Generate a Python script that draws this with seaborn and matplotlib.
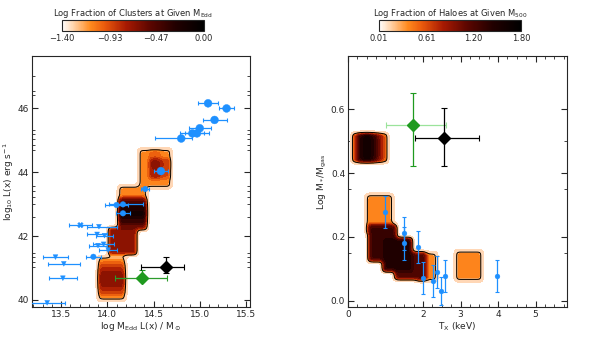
import numpy as np
import matplotlib
matplotlib.use("Agg")
import matplotlib.pyplot as plt
import seaborn as sns
import pandas as pd
from matplotlib.colors import LinearSegmentedColormap, Normalize
from matplotlib.cm import ScalarMappable
from matplotlib.ticker import FixedLocator, MultipleLocator

# ---------------- data: left panel ----------------
left_x = [15.09, 15.29, 15.16, 15.00, 14.92, 14.97, 14.80, 14.58, 14.41,
          14.10, 14.17, 14.17, 13.71, 13.91, 13.89, 13.97, 13.90, 13.96,
          14.01, 13.85, 13.44, 13.53, 13.52, 13.35]
left_y = [46.15, 45.99, 45.63, 45.37, 45.21, 45.21, 45.05, 44.03, 43.47,
          42.97, 42.99, 42.71, 42.34, 42.29, 42.05, 42.01, 41.70, 41.74,
          41.56, 41.35, 41.34, 41.13, 40.68, 39.91]
left_xerr_lo = [0.11, 0.08, 0.13, 0.12, 0.13, 0.13, 0.28, 0.08, 0.04, 0.12, 0.15, 0.08,
                0.12, 0.13, 0.11, 0.09, 0.10, 0.11, 0.10, 0.08, 0.14, 0.17, 0.15, 0.19]
left_xerr_hi = [0.11, 0.08, 0.13, 0.12, 0.13, 0.13, 0.12, 0.08, 0.04, 0.12, 0.22, 0.08,
                0.12, 0.19, 0.11, 0.09, 0.10, 0.11, 0.10, 0.08, 0.14, 0.17, 0.15, 0.19]
left_kind = ["big"] * 8 + ["mid", "mid", "mid", "mid", "cross", "tri", "tri", "tri",
                           "tri", "tri", "tri", "mid", "tri", "tri", "tri", "tri"]

left_green = dict(x=14.38, y=40.68, xlo=0.30, xhi=0.27, ylo=0.10, yhi=0.27)
left_black = dict(x=14.64, y=41.02, xlo=0.27, xhi=0.19, ylo=0.17, yhi=0.33)

# density blocks (log fraction), matrices rows bottom->top
left_blk_x0 = [13.90, 14.01, 14.12, 14.34]
left_blk_x1 = [14.20, 14.32, 14.43, 14.69]
left_blk_y0 = [39.98, 41.41, 42.19, 43.50]
left_blk_y1 = [41.36, 42.28, 43.58, 44.72]
left_blk_val = [
    [[-1.12], [-0.85], [-0.70], [-0.62], [-0.72], [-0.88], [-1.12]],
    [[-0.66]],
    [[-0.60], [-0.35], [-0.18], [-0.25], [-0.50], [-1.12], [-1.12]],
    [[-1.12, -1.12, -1.12], [-1.12, -0.75, -0.92], [-1.12, -0.68, -0.85], [-1.12, -1.0, -1.12]],
]
left_cb_ticks = [-1.40, -0.93, -0.47, 0.00]
left_cb_labels = ["\u22121.40", "\u22120.93", "\u22120.47", "0.00"]
left_xticks = [13.5, 14.0, 14.5, 15.0, 15.5]
left_yticks = [40, 42, 44, 46]
left_yminor = [41.03, 41.19, 41.34, 41.47, 42.59, 43.0, 43.22, 43.41, 43.56,
               44.69, 44.84, 45.03, 45.19, 45.31, 46.41, 46.53, 47.0]

# ---------------- data: right panel ----------------
right_x = [0.987, 1.49, 1.49, 1.875, 1.99, 2.27, 2.38, 2.48, 2.59, 3.98]
right_y = [0.279, 0.211, 0.180, 0.170, 0.071, 0.0625, 0.090, 0.031, 0.079, 0.079]
right_yerr = [0.05, 0.052, 0.052, 0.05, 0.05, 0.05, 0.05, 0.045, 0.05, 0.05]

right_green = dict(x=1.725, y=0.55, xlo=0.71, xhi=0.89, ylo=0.128, yhi=0.10)
right_black = dict(x=2.57, y=0.51, xlo=0.78, xhi=0.92, ylo=0.088, yhi=0.092)

right_blk_x0 = [0.115, 0.47, 0.54, 0.93, 1.25, 1.83, 2.86]
right_blk_x1 = [1.06, 1.21, 1.30, 1.71, 2.05, 2.37, 3.58]
right_blk_y0 = [0.433, 0.212, 0.123, 0.092, 0.066, 0.062, 0.062]
right_blk_y1 = [0.524, 0.334, 0.2375, 0.197, 0.154, 0.152, 0.158]
right_blk_val = [
    [[0.80, 1.45, 1.65, 1.40, 1.00, 0.60]],
    [[0.37]],
    [[1.30]],
    [[1.45]],
    [[1.20]],
    [[0.90, 0.37]],
    [[0.37]],
]
right_cb_ticks = [0.01, 0.61, 1.20, 1.80]
right_cb_labels = ["0.01", "0.61", "1.20", "1.80"]
right_xticks = [0, 2, 3, 4, 5]
right_yticks = [0.0, 0.2, 0.4, 0.6]
right_yminor = [0.15, 0.35, 0.5]

# ---------------- style ----------------
sns.set_theme(style="ticks")
plt.rcParams["font.family"] = ["DejaVu Sans"]
plt.rcParams["axes.linewidth"] = 0.8
FS = 6.5

cmap = LinearSegmentedColormap.from_list(
    "heat", [(0.0, "#ffffff"), (0.07, "#ffd9b5"), (0.2, "#ff8a1e"), (0.3, "#ea5a0c"),
             (0.45, "#a81a02"), (0.62, "#5c0600"), (0.8, "#220000"), (1.0, "#000000")])
HALO = "#ffd7b6"
BLUE = "#1e90ff"


def density(xlim, ylim, nx, ny, x0s, x1s, y0s, y1s, mats, base, sig):
    xs = np.linspace(xlim[0], xlim[1], nx)
    ys = np.linspace(ylim[0], ylim[1], ny)
    X, Y = np.meshgrid(xs, ys)
    Z = np.full(X.shape, base, dtype=float)
    for x0, x1, y0, y1, m in zip(x0s, x1s, y0s, y1s, mats):
        m = np.asarray(m, float)
        nr, nc = m.shape
        inside = (X >= x0) & (X <= x1) & (Y >= y0) & (Y <= y1)
        ci = np.clip(((X - x0) / (x1 - x0) * nc).astype(int), 0, nc - 1)
        ri = np.clip(((Y - y0) / (y1 - y0) * nr).astype(int), 0, nr - 1)
        Z = np.where(inside, np.maximum(Z, m[ri, ci]), Z)
    r = int(3 * sig) + 1
    t = np.arange(-r, r + 1)
    k = np.exp(-0.5 * (t / sig) ** 2)
    k /= k.sum()

    def conv(v):
        p = np.concatenate([np.full(r, base), v, np.full(r, base)])
        return np.convolve(p, k, mode="same")[r:-r]
    Z = np.apply_along_axis(conv, 1, Z)
    Z = np.apply_along_axis(conv, 0, Z)
    return xs, ys, Z


def draw_density(ax, xs, ys, Z, vmin, vmax):
    rng = vmax - vmin
    norm = Normalize(vmin, vmax)
    halo = vmin - 0.16 * rng
    line = vmin + 0.10 * rng
    ax.contourf(xs, ys, Z, levels=[halo, line], colors=[HALO], zorder=1)
    ax.contourf(xs, ys, Z, levels=np.linspace(line, vmax, 13), cmap=cmap, norm=norm, zorder=1)
    ax.contour(xs, ys, Z, levels=[line], colors="black", linewidths=0.7,
               linestyles="solid", zorder=2)
    return norm


fig = plt.figure(figsize=(6.0, 3.44), dpi=100)
axL = fig.add_axes([0.0533, 0.1076, 0.3633, 0.7296])
axR = fig.add_axes([0.58, 0.1076, 0.365, 0.7296])

# ---------- left panel ----------
L_xlim = (13.186, 15.543)
L_ylim = (39.78, 47.63)
xs, ys, Z = density(L_xlim, L_ylim, 440, 500, left_blk_x0, left_blk_x1, left_blk_y0,
                    left_blk_y1, left_blk_val, -1.40 - 0.3 * 1.40, 4.0)
normL = draw_density(axL, xs, ys, Z, -1.40, 0.0)

dfL = pd.DataFrame({"x": left_x, "y": left_y, "kind": left_kind})
axL.errorbar(left_x, left_y, xerr=[left_xerr_lo, left_xerr_hi], fmt="none",
             ecolor=BLUE, elinewidth=0.9, capsize=1.5, capthick=0.8, zorder=4)
sns.scatterplot(data=dfL, x="x", y="y", style="kind", size="kind", ax=axL,
                markers={"big": "o", "mid": "o", "cross": "X", "tri": "v"},
                sizes={"big": 32, "mid": 16, "cross": 16, "tri": 12},
                color=BLUE, edgecolor=BLUE, linewidth=0.3, legend=False, zorder=5)

for d, col, xcol in [(left_green, "#1f9a1f", "#2c9c2c"), (left_black, "black", "black")]:
    axL.errorbar([d["x"]], [d["y"]], xerr=[[d["xlo"]], [d["xhi"]]], fmt="none",
                 ecolor=xcol, elinewidth=0.9, capsize=2, capthick=0.8, zorder=6)
    axL.errorbar([d["x"]], [d["y"]], yerr=[[d["ylo"]], [d["yhi"]]], fmt="none",
                 ecolor=col, elinewidth=0.9, capsize=2, capthick=0.8, zorder=6)
    axL.plot([d["x"]], [d["y"]], marker="D", ms=6, color=col, mec=col, ls="none", zorder=7)

axL.set_xlim(L_xlim)
axL.set_ylim(L_ylim)
axL.set_xticks(left_xticks)
axL.set_xticklabels(["13.5", "14.0", "14.5", "15.0", "15.5"])
axL.set_yticks(left_yticks)
axL.set_yticklabels([str(v) for v in left_yticks])
axL.xaxis.set_minor_locator(MultipleLocator(0.1))
axL.yaxis.set_minor_locator(FixedLocator(left_yminor))
axL.tick_params(which="both", direction="in", right=True, top=False, labelsize=FS, pad=2)
axL.tick_params(which="major", length=4, width=0.8)
axL.tick_params(which="minor", length=2, width=0.6)
axL.set_xlabel(r"log M$_{\rm Edd}$ L(x) / M$_\odot$", fontsize=FS, labelpad=1)
axL.set_ylabel(r"log$_{10}$ L(x) erg s$^{-1}$", fontsize=FS, labelpad=1)

# ---------- right panel ----------
R_xlim = (0.0, 5.84)
R_ylim = (-0.019, 0.766)
xs, ys, Z = density(R_xlim, R_ylim, 440, 500, right_blk_x0, right_blk_x1, right_blk_y0,
                    right_blk_y1, right_blk_val, 0.01 - 0.3 * 1.79, 4.0)
normR = draw_density(axR, xs, ys, Z, 0.01, 1.80)

axR.errorbar(right_x, right_y, yerr=right_yerr, fmt="none", ecolor=BLUE,
             elinewidth=0.9, capsize=1.5, capthick=0.8, zorder=4)
sns.scatterplot(x=right_x, y=right_y, ax=axR, color=BLUE, s=12, marker="o",
                edgecolor=BLUE, linewidth=0.3, legend=False, zorder=5)

for d, col, xcol in [(right_green, "#1f9a1f", "#9be39b"), (right_black, "black", "black")]:
    axR.errorbar([d["x"]], [d["y"]], xerr=[[d["xlo"]], [d["xhi"]]], fmt="none",
                 ecolor=xcol, elinewidth=0.9, capsize=2, capthick=0.8, zorder=6)
    axR.errorbar([d["x"]], [d["y"]], yerr=[[d["ylo"]], [d["yhi"]]], fmt="none",
                 ecolor=col, elinewidth=0.9, capsize=2, capthick=0.8, zorder=6)
    axR.plot([d["x"]], [d["y"]], marker="D", ms=6, color=col, mec=col, ls="none", zorder=7)

axR.set_xlim(R_xlim)
axR.set_ylim(R_ylim)
axR.set_xticks(right_xticks)
axR.set_xticklabels([str(v) for v in right_xticks])
axR.set_yticks(right_yticks)
axR.set_yticklabels(["0.0", "0.2", "0.4", "0.6"])
axR.xaxis.set_minor_locator(MultipleLocator(0.25))
axR.yaxis.set_minor_locator(FixedLocator(right_yminor))
axR.tick_params(which="both", direction="in", right=True, top=True, labelsize=FS, pad=2)
axR.tick_params(which="major", length=4, width=0.8)
axR.tick_params(which="minor", length=2, width=0.6)
axR.set_xlabel(r"T$_{\rm X}$ (keV)", fontsize=FS, labelpad=1)
axR.set_ylabel(r"Log M$_*$/M$_{\rm gas}$", fontsize=FS, labelpad=1)

# ---------- colorbars ----------
for rect, norm, ticks, labels, title in [
        ([0.1033, 0.9099, 0.2367, 0.032], normL, left_cb_ticks, left_cb_labels,
         r"Log Fraction of Clusters at Given M$_{\rm Edd}$"),
        ([0.6317, 0.9099, 0.2367, 0.032], normR, right_cb_ticks, right_cb_labels,
         r"Log Fraction of Haloes at Given M$_{\rm 500}$")]:
    cax = fig.add_axes(rect)
    cb = fig.colorbar(ScalarMappable(norm=norm, cmap=cmap), cax=cax, orientation="horizontal")
    cb.set_ticks(ticks)
    cb.set_ticklabels(labels)
    cb.outline.set_linewidth(0.8)
    cax.tick_params(labelsize=FS - 0.5, length=0, pad=2)
    cax.set_title(title, fontsize=FS - 0.5, pad=3)

fig.savefig("out.png", dpi=100)
